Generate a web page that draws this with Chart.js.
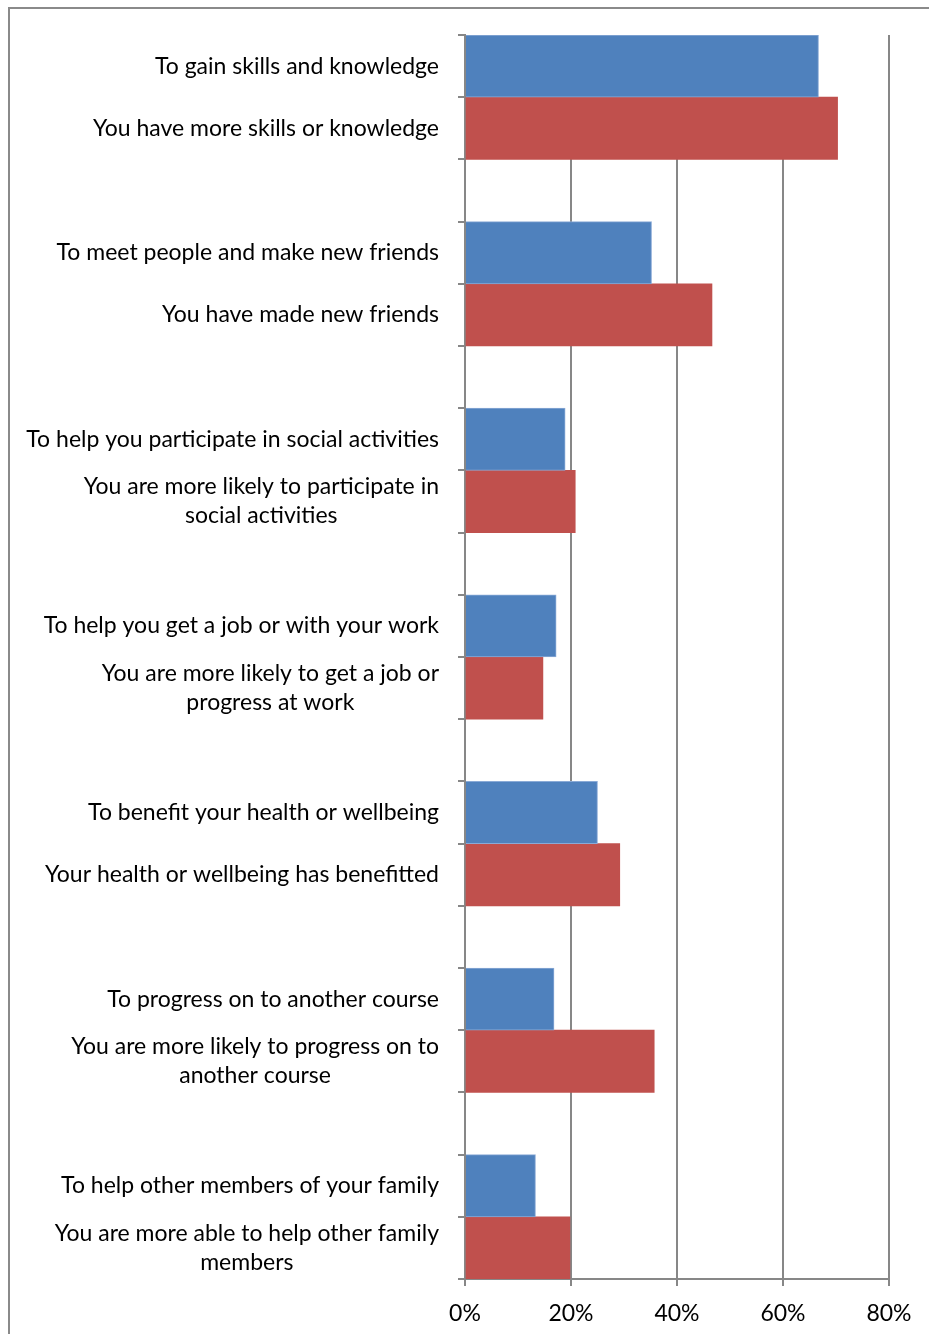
<!DOCTYPE html>
<html>
<head>
<meta charset="utf-8">
<script src="https://cdn.jsdelivr.net/npm/chart.js@4/dist/chart.umd.min.js"></script>
<style>
  html, body { margin: 0; padding: 0; background: #fff; }
  #chart { display: block; }
</style>
</head>
<body>
<canvas id="chart" width="929" height="1334"></canvas>
<script>
// reasons for learning (blue) and the matching outcome (red), in percent
const reasonLabels = [
    'To gain skills and knowledge',
    'To meet people and make new friends',
    'To help you participate in social activities',
    'To help you get a job or with your work',
    'To benefit your health or wellbeing',
    'To progress on to another course',
    'To help other members of your family'
];
const outcomeLabels = [
    ['You have more skills or knowledge'],
    ['You have made new friends'],
    ['You are more likely to participate in', 'social activities'],
    ['You are more likely to get a job or', 'progress at work'],
    ['Your health or wellbeing has benefitted'],
    ['You are more likely to progress on to', 'another course'],
    ['You are more able to help other family', 'members']
];
const reasonValues = [66.7, 35.2, 18.9, 17.2, 25.0, 16.8, 13.3];
const outcomeValues = [70.3, 46.6, 20.8, 14.7, 29.2, 35.7, 19.8];
const xTicks = [0, 20, 40, 60, 80];

const COLORS = {
    blue: '#4f81bd',
    blueEdge: '#8aaad6',
    red: '#c0504d',
    axis: '#878787',
    text: '#000000'
};
const FONT = 'Lato';
const FONT_SIZE = 23;

// one slot per bar, with an empty slot between pairs
const categories = [];
const reasonData = [];
const outcomeData = [];
reasonLabels.forEach((r, i) => {
    categories.push([r]);
    reasonData.push(reasonValues[i]);
    outcomeData.push(null);

    categories.push(outcomeLabels[i]);
    reasonData.push(null);
    outcomeData.push(outcomeValues[i]);

    if (i < reasonLabels.length - 1) {
        categories.push(['']);
        reasonData.push(null);
        outcomeData.push(null);
    }
});

// outer frame (left and top edges only)
const framePlugin = {
    id: 'frame',
    beforeDraw(chart) {
        const ctx = chart.ctx;
        ctx.save();
        ctx.strokeStyle = '#8a8a8a';
        ctx.lineWidth = 2;
        ctx.beginPath();
        ctx.moveTo(9, 1334);
        ctx.lineTo(9, 8);
        ctx.lineTo(929, 8);
        ctx.stroke();
        ctx.restore();
    }
};

// category labels: block right-aligned, lines centred within the block
const labelPlugin = {
    id: 'catLabels',
    afterDraw(chart) {
        const ctx = chart.ctx;
        const yScale = chart.scales.y;
        const right = 439;
        const lineH = 29;
        ctx.save();
        ctx.font = FONT_SIZE + 'px ' + FONT;
        ctx.fillStyle = COLORS.text;
        ctx.textAlign = 'center';
        ctx.textBaseline = 'middle';
        categories.forEach((lines, i) => {
            if (!lines[0]) return;
            const yc = yScale.getPixelForValue(i);
            const w = Math.max(...lines.map(l => ctx.measureText(l).width));
            const cx = right - w / 2;
            const y0 = yc - (lines.length - 1) * lineH / 2;
            lines.forEach((l, k) => ctx.fillText(l, cx, y0 + k * lineH));
        });
        ctx.restore();
    }
};

new Chart(document.getElementById('chart'), {
    type: 'bar',
    data: {
        labels: categories.map(c => c.join(' ')),
        datasets: [
            {
                label: 'Reason',
                data: reasonData,
                backgroundColor: COLORS.blue,
                borderColor: COLORS.blueEdge,
                borderWidth: 1,
                barPercentage: 1,
                categoryPercentage: 1
            },
            {
                label: 'Outcome',
                data: outcomeData,
                backgroundColor: COLORS.red,
                borderWidth: 0,
                barPercentage: 1,
                categoryPercentage: 1
            }
        ]
    },
    options: {
        indexAxis: 'y',
        responsive: false,
        animation: false,
        layout: { padding: { left: 9, right: 40, top: 35, bottom: 4 } },
        plugins: {
            legend: { display: false },
            tooltip: { enabled: false }
        },
        scales: {
            x: {
                min: 0,
                max: 80,
                afterBuildTicks(scale) {
                    scale.ticks = xTicks.map(v => ({ value: v }));
                },
                afterFit(scale) { scale.height = 51; },
                ticks: {
                    callback: v => v + '%',
                    color: COLORS.text,
                    font: { family: FONT, size: FONT_SIZE },
                    padding: 14,
                    maxRotation: 0
                },
                grid: {
                    color: COLORS.axis,
                    lineWidth: 2,
                    tickLength: 7
                },
                border: { color: COLORS.axis, width: 2 }
            },
            y: {
                stacked: true,
                offset: true,
                afterFit(scale) { scale.width = 456; },
                ticks: { display: false },
                grid: {
                    drawOnChartArea: false,
                    color: COLORS.axis,
                    lineWidth: 2,
                    tickLength: 7
                },
                border: { color: COLORS.axis, width: 2 }
            }
        }
    },
    plugins: [framePlugin, labelPlugin]
});
</script>
</body>
</html>
